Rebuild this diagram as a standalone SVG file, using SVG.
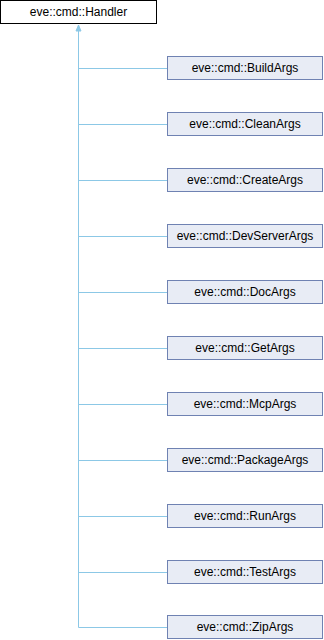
<svg xmlns="http://www.w3.org/2000/svg" width="324" height="640" viewBox="0 0 324 640">
<style>
.n rect{fill:#E8ECF5;stroke:#6F82B2;stroke-width:1}
.r rect{fill:#fff;stroke:#000;stroke-width:1}
text{font-family:"Liberation Sans",Arial,sans-serif;font-size:12px;text-anchor:middle;fill:#000}
.e path{fill:none;stroke:#8CC8E6;stroke-width:1}
</style>
<defs>
<marker id="a" markerWidth="8" markerHeight="8" refX="0" refY="4" orient="auto" markerUnits="userSpaceOnUse">
<path d="M0,4 L6,1.5 L6,6.5 Z" fill="#8CC8E6" stroke="#8CC8E6"/>
</marker>
</defs>
<rect width="324" height="640" fill="#fff"/>
<g id="edges" class="e">
<path d="M78.5,25 V627.5" marker-start="url(#a)"/>
<path d="M78.5,68.5 H167.5"/>
<path d="M78.5,124.5 H167.5"/>
<path d="M78.5,180.5 H167.5"/>
<path d="M78.5,236.5 H167.5"/>
<path d="M78.5,292.5 H167.5"/>
<path d="M78.5,348.5 H167.5"/>
<path d="M78.5,404.5 H167.5"/>
<path d="M78.5,460.5 H167.5"/>
<path d="M78.5,516.5 H167.5"/>
<path d="M78.5,572.5 H167.5"/>
<path d="M78.5,627.5 H167.5"/>
</g>
<g id="Handler" class="r"><rect x="0.5" y="0.5" width="156" height="23"/><text x="78.5" y="16">eve::cmd::Handler</text></g>
<g id="BuildArgs" class="n"><rect x="167.5" y="56.5" width="155" height="23"/><text x="245" y="72">eve::cmd::BuildArgs</text></g>
<g id="CleanArgs" class="n"><rect x="167.5" y="112.5" width="155" height="23"/><text x="245" y="128">eve::cmd::CleanArgs</text></g>
<g id="CreateArgs" class="n"><rect x="167.5" y="168.5" width="155" height="23"/><text x="245" y="184">eve::cmd::CreateArgs</text></g>
<g id="DevServerArgs" class="n"><rect x="167.5" y="224.5" width="155" height="23"/><text x="245" y="240">eve::cmd::DevServerArgs</text></g>
<g id="DocArgs" class="n"><rect x="167.5" y="280.5" width="155" height="23"/><text x="245" y="296">eve::cmd::DocArgs</text></g>
<g id="GetArgs" class="n"><rect x="167.5" y="336.5" width="155" height="23"/><text x="245" y="352">eve::cmd::GetArgs</text></g>
<g id="McpArgs" class="n"><rect x="167.5" y="392.5" width="155" height="23"/><text x="245" y="408">eve::cmd::McpArgs</text></g>
<g id="PackageArgs" class="n"><rect x="167.5" y="448.5" width="155" height="23"/><text x="245" y="464">eve::cmd::PackageArgs</text></g>
<g id="RunArgs" class="n"><rect x="167.5" y="504.5" width="155" height="23"/><text x="245" y="520">eve::cmd::RunArgs</text></g>
<g id="TestArgs" class="n"><rect x="167.5" y="560.5" width="155" height="23"/><text x="245" y="576">eve::cmd::TestArgs</text></g>
<g id="ZipArgs" class="n"><rect x="167.5" y="615.5" width="155" height="23"/><text x="245" y="631">eve::cmd::ZipArgs</text></g>
</svg>
